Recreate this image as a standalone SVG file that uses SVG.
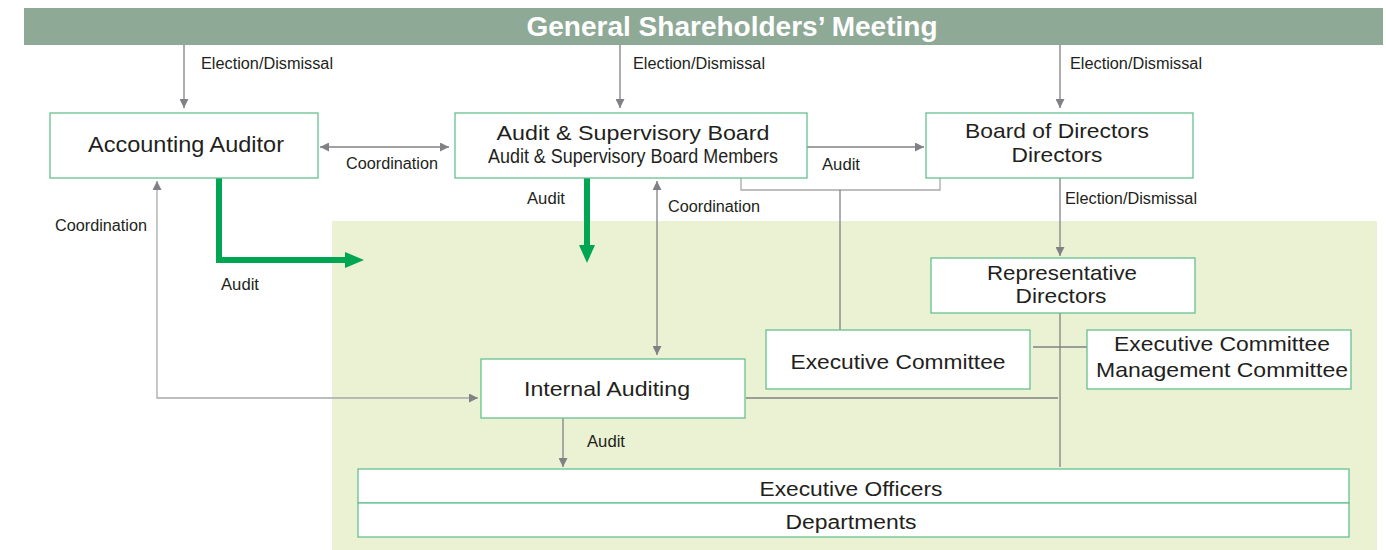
<svg xmlns="http://www.w3.org/2000/svg" width="1386" height="550" viewBox="0 0 1386 550">
  <defs>
    <style>
      .box { fill: #ffffff; stroke: #66c08f; stroke-width: 1.3; }
      .ln { fill: none; stroke: #808184; stroke-width: 1.3; }
      .lnl { fill: none; stroke: #a7a9ac; stroke-width: 1.3; }
      .grn { fill: none; stroke: #00a651; stroke-width: 6; }
      .t { font-family: "Liberation Sans", Arial, sans-serif; fill: #231f20; text-anchor: middle; }
      .lbl { font-family: "Liberation Sans", Arial, sans-serif; fill: #231f20; font-size: 16px; }
      .head { font-family: "Liberation Sans", Arial, sans-serif; font-weight: bold; fill: #ffffff; font-size: 27px; text-anchor: middle; }
    </style>
    <marker id="ah" viewBox="0 0 10 10" refX="10" refY="5" markerWidth="10" markerHeight="9" markerUnits="userSpaceOnUse" orient="auto-start-reverse">
      <path d="M0,0 L10,5 L0,10 Z" fill="#808184"/>
    </marker>
  </defs>

  <!-- executive area background -->
  <rect x="332" y="221" width="1045" height="329" fill="#ebf2d3"/>

  <!-- general shareholders' meeting banner -->
  <g id="gsm">
    <rect x="24" y="8" width="1359" height="37" fill="#8fa997"/>
    <text class="head" x="732" y="36" textLength="411" lengthAdjust="spacingAndGlyphs">General Shareholders’ Meeting</text>
  </g>

  <!-- connectors -->
  <g id="connectors">
    <line class="ln" x1="184" y1="45" x2="184" y2="108" marker-end="url(#ah)"/>
    <line class="ln" x1="620" y1="45" x2="620" y2="108" marker-end="url(#ah)"/>
    <line class="ln" x1="1060" y1="45" x2="1060" y2="108" marker-end="url(#ah)"/>
    <!-- coordination: accounting auditor <-> audit & supervisory board -->
    <line class="ln" x1="320" y1="147" x2="449" y2="147" marker-start="url(#ah)" marker-end="url(#ah)"/>
    <!-- audit: board -> board of directors -->
    <line class="ln" x1="807" y1="147" x2="924" y2="147" marker-end="url(#ah)"/>
    <!-- bracket joining board and directors to executive committee -->
    <path class="lnl" d="M741,178 V190 H940 V178"/>
    <line class="ln" x1="840" y1="190" x2="840" y2="330"/>
    <!-- coordination: board <-> internal auditing -->
    <line class="ln" x1="657" y1="181" x2="657" y2="355" marker-start="url(#ah)" marker-end="url(#ah)"/>
    <!-- coordination: internal auditing <-> accounting auditor -->
    <path class="lnl" d="M157,181 V398 H478" marker-start="url(#ah)" marker-end="url(#ah)"/>
    <!-- election/dismissal: board of directors -> representative directors -->
    <line class="ln" x1="1060" y1="178" x2="1060" y2="256" marker-end="url(#ah)"/>
    <line class="ln" x1="1060" y1="313" x2="1060" y2="467"/>
    <line class="ln" x1="1033" y1="347" x2="1087" y2="347"/>
    <line class="ln" x1="746" y1="398" x2="1058" y2="398"/>
    <!-- audit: internal auditing -> executive officers -->
    <line class="ln" x1="563" y1="418" x2="563" y2="467" marker-end="url(#ah)"/>
    <!-- thick green audit arrows -->
    <path class="grn" d="M219,178 V260 H346"/>
    <polygon points="345,252 364,260 345,268" fill="#00a651"/>
    <path class="grn" d="M587,178 V246"/>
    <polygon points="579,245 595,245 587,263" fill="#00a651"/>

    <text class="lbl" x="201" y="69" textLength="132" lengthAdjust="spacingAndGlyphs">Election/Dismissal</text>
    <text class="lbl" x="633" y="69" textLength="132" lengthAdjust="spacingAndGlyphs">Election/Dismissal</text>
    <text class="lbl" x="1070" y="69" textLength="132" lengthAdjust="spacingAndGlyphs">Election/Dismissal</text>
    <text class="lbl" x="346" y="169" textLength="92" lengthAdjust="spacingAndGlyphs">Coordination</text>
    <text class="lbl" x="822" y="170" textLength="38" lengthAdjust="spacingAndGlyphs">Audit</text>
    <text class="lbl" x="527" y="204" textLength="38" lengthAdjust="spacingAndGlyphs">Audit</text>
    <text class="lbl" x="668" y="212" textLength="92" lengthAdjust="spacingAndGlyphs">Coordination</text>
    <text class="lbl" x="1065" y="204" textLength="132" lengthAdjust="spacingAndGlyphs">Election/Dismissal</text>
    <text class="lbl" x="55" y="231" textLength="92" lengthAdjust="spacingAndGlyphs">Coordination</text>
    <text class="lbl" x="221" y="290" textLength="38" lengthAdjust="spacingAndGlyphs">Audit</text>
    <text class="lbl" x="587" y="447" textLength="38" lengthAdjust="spacingAndGlyphs">Audit</text>
  </g>

  <g id="accounting-auditor">
    <rect class="box" x="50" y="113" width="268" height="65"/>
    <text class="t" x="186" y="152" font-size="22" textLength="196" lengthAdjust="spacingAndGlyphs">Accounting Auditor</text>
  </g>

  <g id="audit-supervisory-board">
    <rect class="box" x="455" y="113" width="352" height="65"/>
    <text class="t" x="633" y="140" font-size="21" textLength="273" lengthAdjust="spacingAndGlyphs">Audit &amp; Supervisory Board</text>
    <text class="t" x="633" y="163" font-size="20" textLength="290" lengthAdjust="spacingAndGlyphs">Audit &amp; Supervisory Board Members</text>
  </g>

  <g id="board-of-directors">
    <rect class="box" x="926" y="113" width="267" height="65"/>
    <text class="t" x="1057" y="138" font-size="21" textLength="184" lengthAdjust="spacingAndGlyphs">Board of Directors</text>
    <text class="t" x="1057" y="162" font-size="21" textLength="91" lengthAdjust="spacingAndGlyphs">Directors</text>
  </g>

  <g id="representative-directors">
    <rect class="box" x="931" y="258" width="264" height="55"/>
    <text class="t" x="1062" y="280" font-size="21" textLength="150" lengthAdjust="spacingAndGlyphs">Representative</text>
    <text class="t" x="1061" y="303" font-size="21" textLength="91" lengthAdjust="spacingAndGlyphs">Directors</text>
  </g>

  <g id="executive-committee">
    <rect class="box" x="766" y="330" width="264" height="59"/>
    <text class="t" x="898" y="369" font-size="21" textLength="215" lengthAdjust="spacingAndGlyphs">Executive Committee</text>
  </g>

  <g id="management-committee">
    <rect class="box" x="1087" y="330" width="264" height="59"/>
    <text class="t" x="1222" y="351" font-size="21" textLength="216" lengthAdjust="spacingAndGlyphs">Executive Committee</text>
    <text class="t" x="1222" y="377" font-size="21" textLength="252" lengthAdjust="spacingAndGlyphs">Management Committee</text>
  </g>

  <g id="internal-auditing">
    <rect class="box" x="481" y="359" width="264" height="59"/>
    <text class="t" x="607" y="396" font-size="21" textLength="166" lengthAdjust="spacingAndGlyphs">Internal Auditing</text>
  </g>

  <g id="executive-officers">
    <rect class="box" x="358" y="469" width="991" height="34"/>
    <text class="t" x="851" y="496" font-size="20" textLength="183" lengthAdjust="spacingAndGlyphs">Executive Officers</text>
  </g>

  <g id="departments">
    <rect class="box" x="358" y="503" width="991" height="34"/>
    <text class="t" x="851" y="529" font-size="20" textLength="131" lengthAdjust="spacingAndGlyphs">Departments</text>
  </g>
</svg>
